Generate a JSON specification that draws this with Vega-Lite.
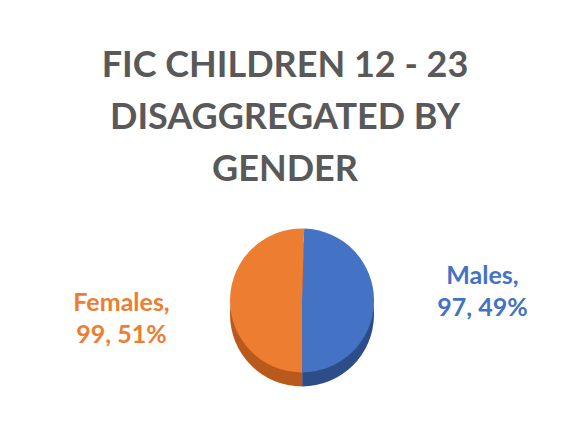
{
  "$schema": "https://vega.github.io/schema/vega-lite/v6.json",
  "width": 587,
  "height": 433,
  "autosize": {"type": "fit", "contains": "padding"},
  "padding": {"left": 17, "right": 0, "top": 48, "bottom": 0},
  "background": "white",
  "config": {"view": {"stroke": null}},
  "title": {
    "text": ["FIC CHILDREN 12 - 23", "DISAGGREGATED BY", "GENDER"],
    "font": "Lato",
    "fontSize": 36,
    "fontWeight": "bold",
    "color": "#595959",
    "lineHeight": 52,
    "anchor": "middle",
    "baseline": "alphabetic",
    "dx": -17,
    "offset": -49
  },
  "data": {
    "values": [
      {"gender": "Males", "count": 97, "pct": 49},
      {"gender": "Females", "count": 99, "pct": 51}
    ]
  },
  "layer": [
    {
      "mark": {"type": "arc", "outerRadius": 72, "yOffset": 14},
      "encoding": {
        "theta": {"field": "count", "type": "quantitative", "stack": true, "scale": {"range": [0.03, 6.3132]}},
        "order": {"field": "gender", "sort": "descending"},
        "color": {"field": "gender", "type": "nominal", "scale": {"domain": ["Females", "Males"], "range": ["#B9591B", "#2C4D88"]}, "legend": null}
      }
    },
    {
      "mark": {"type": "arc", "outerRadius": 72},
      "encoding": {
        "theta": {"field": "count", "type": "quantitative", "stack": true, "scale": {"range": [0.03, 6.3132]}},
        "order": {"field": "gender", "sort": "descending"},
        "color": {"field": "gender", "type": "nominal", "scale": {"domain": ["Females", "Males"], "range": ["#ED7D31", "#4472C4"]}, "legend": null}
      }
    },
    {
      "transform": [{"calculate": "[datum.gender + ',', datum.count + ', ' + datum.pct + '%']", "as": "label"}],
      "mark": {"type": "text", "radius": 181, "dy": -11, "font": "Lato", "fontSize": 25, "fontWeight": "bold", "lineHeight": 32, "align": "center", "baseline": "middle"},
      "encoding": {
        "theta": {"field": "count", "type": "quantitative", "stack": true, "scale": {"range": [-0.06, 6.2232]}},
        "order": {"field": "gender", "sort": "descending"},
        "text": {"field": "label"},
        "color": {"field": "gender", "type": "nominal", "scale": {"domain": ["Females", "Males"], "range": ["#ED7D31", "#4472C4"]}, "legend": null}
      }
    }
  ],
  "resolve": {"scale": {"theta": "independent", "color": "independent"}}
}
